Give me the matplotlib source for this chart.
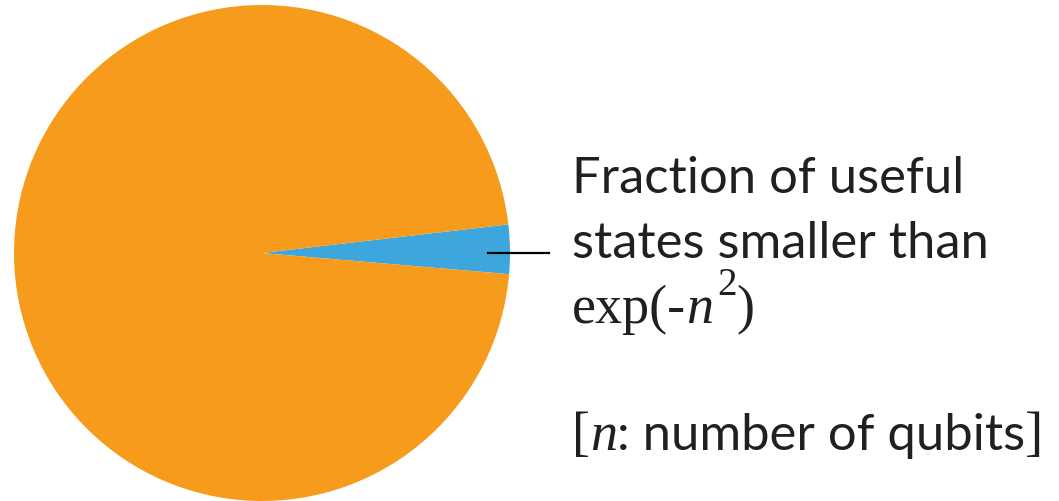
import numpy as np
import matplotlib
matplotlib.use("Agg")
import matplotlib.pyplot as plt

# pie data: useful states vs the rest
labels = ["useful states", "other states"]
fractions = [0.032, 0.968]
colors = ["#3DA6DC", "#F79B1D"]
start_deg = -4.9

W, H, DPI = 1059, 502, 100
fig = plt.figure(figsize=(W / DPI, H / DPI), dpi=DPI)

cx, cy, r = 262, 254, 248
ax = fig.add_axes([(cx - r) / W, (H - cy - r) / H, 2 * r / W, 2 * r / H])
ax.pie(fractions, colors=colors, startangle=start_deg, counterclock=True,
       radius=1, wedgeprops=dict(linewidth=0))
ax.set_xlim(-1, 1)
ax.set_ylim(-1, 1)
ax.axis("off")

# leader line
fig.add_artist(plt.Line2D([488 / W, 549 / W], [1 - 254 / H, 1 - 254 / H],
                          color="black", lw=1.6))

sans = "Lato"
serif = "Liberation Serif"
renderer = fig.canvas.get_renderer()


def put_run(x0, base_y, pieces):
    # pieces: (text, family, style, size, dy_px)
    x = x0
    for txt, fam, sty, size, dy in pieces:
        t = fig.text(x / W, 1 - (base_y - dy) / H, txt, family=fam, style=sty,
                     fontsize=size, va="baseline", ha="left", color="#231F20")
        bb = t.get_window_extent(renderer)
        x += bb.width


put_run(572, 193, [("Fraction of useful", sans, "normal", 36.5, 0)])
put_run(572, 258, [("states smaller than", sans, "normal", 36.5, 0)])
put_run(572, 323, [("exp(-", serif, "normal", 39, 0),
                   ("n", serif, "italic", 39, 0),
                   (" ", serif, "normal", 11, 0),
                   ("2", serif, "normal", 28, 28),
                   (")", serif, "normal", 39, 0)])
put_run(572, 450, [("[", serif, "normal", 39, 0),
                   ("n", serif, "italic", 39, 0),
                   (": number of qubits", sans, "normal", 36.5, 0),
                   ("]", serif, "normal", 39, 0)])

fig.savefig("out.png", dpi=DPI)
